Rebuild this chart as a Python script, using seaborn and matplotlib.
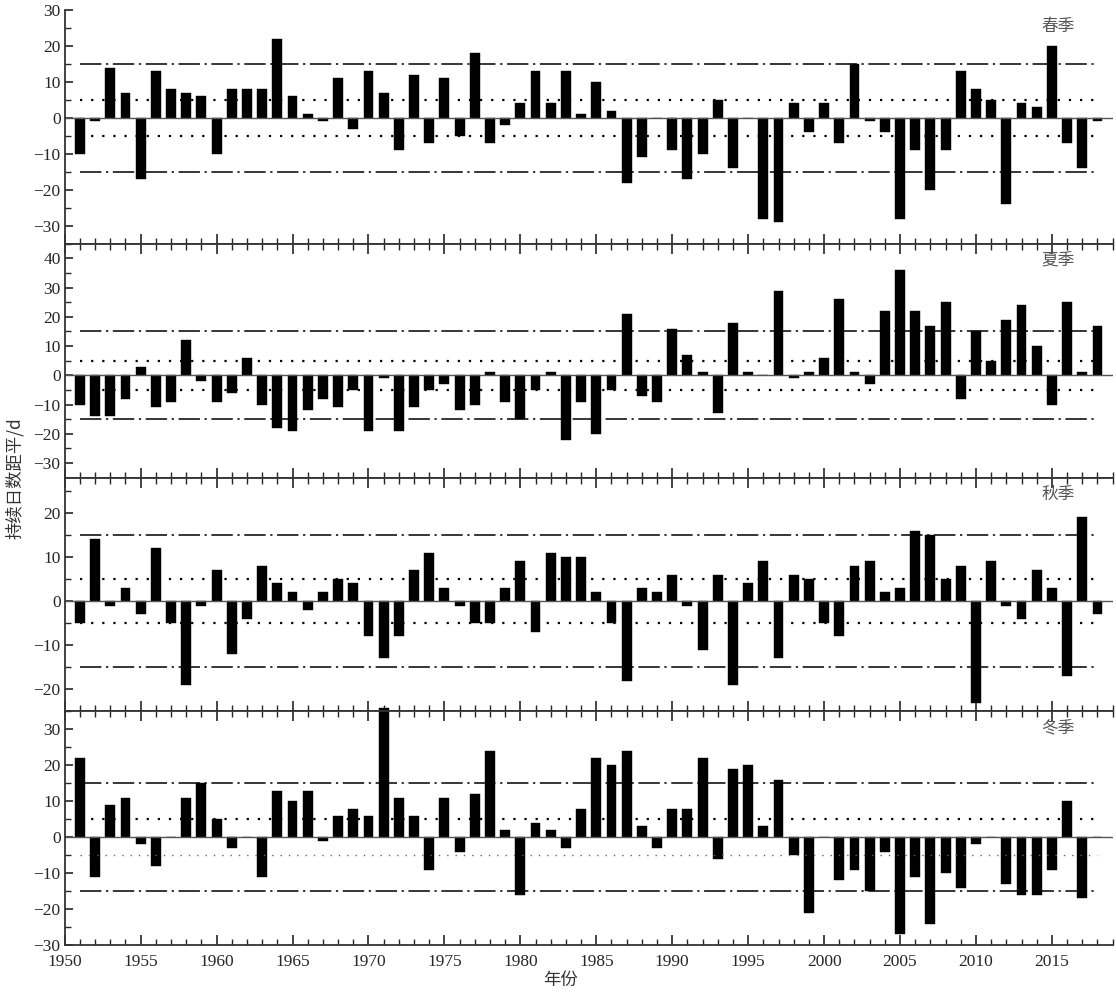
import numpy as np
import pandas as pd
import matplotlib
matplotlib.use("Agg")
import matplotlib.pyplot as plt
from matplotlib.ticker import MultipleLocator
import seaborn as sns

# Seasonal anomalies of duration days, 1951-2018
years = list(range(1951, 2019))

spring = [-10, -1, 14, 7, -17, 13, 8, 7, 6, -10,
          8, 8, 8, 22, 6, 1, -1, 11, -3, 13,
          7, -9, 12, -7, 11, -5, 18, -7, -2, 4,
          13, 4, 13, 1, 10, 2, -18, -11, 0, -9,
          -17, -10, 5, -14, 0, -28, -29, 4, -4, 4,
          -7, 15, -1, -4, -28, -9, -20, -9, 13, 8,
          5, -24, 4, 3, 20, -7, -14, -1]

summer = [-10, -14, -14, -8, 3, -11, -9, 12, -2, -9,
          -6, 6, -10, -18, -19, -12, -8, -11, -5, -19,
          -1, -19, -11, -5, -3, -12, -10, 1, -9, -15,
          -5, 1, -22, -9, -20, -5, 21, -7, -9, 16,
          7, 1, -13, 18, 1, 0, 29, -1, 1, 6,
          26, 1, -3, 22, 36, 22, 17, 25, -8, 15,
          5, 19, 24, 10, -10, 25, 1, 17]

autumn = [-5, 14, -1, 3, -3, 12, -5, -19, -1, 7,
          -12, -4, 8, 4, 2, -2, 2, 5, 4, -8,
          -13, -8, 7, 11, 3, -1, -5, -5, 3, 9,
          -7, 11, 10, 10, 2, -5, -18, 3, 2, 6,
          -1, -11, 6, -19, 4, 9, -13, 6, 5, -5,
          -8, 8, 9, 2, 3, 16, 15, 5, 8, -23,
          9, -1, -4, 7, 3, -17, 19, -3]

winter = [22, -11, 9, 11, -2, -8, 0, 11, 15, 5,
          -3, 0, -11, 13, 10, 13, -1, 6, 8, 6,
          36, 11, 6, -9, 11, -4, 12, 24, 2, -16,
          4, 2, -3, 8, 22, 20, 24, 3, -3, 8,
          8, 22, -6, 19, 20, 3, 16, -5, -21, 0,
          -12, -9, -15, -4, -27, -11, -24, -10, -14, -2,
          0, -13, -16, -16, -9, 10, -17, 0]

season_names = ["春季", "夏季", "秋季", "冬季"]
season_values = [spring, summer, autumn, winter]
y_limits = [(-35, 30), (-35, 45), (-25, 28), (-30, 35)]
y_ticks = [[-30, -20, -10, 0, 10, 20, 30],
           [-30, -20, -10, 0, 10, 20, 30, 40],
           [-20, -10, 0, 10, 20],
           [-30, -20, -10, 0, 10, 20, 30]]
x_ticks = list(range(1950, 2020, 5))

sns.set_style("ticks")
plt.rcParams['font.family'] = ['Liberation Serif', 'Noto Sans CJK SC']
plt.rcParams['axes.unicode_minus'] = True

fig, axes = plt.subplots(4, 1, figsize=(11.16, 9.96), dpi=100, sharex=True)
fig.subplots_adjust(left=0.058, right=0.997, top=0.99, bottom=0.051, hspace=0)

for i, ax in enumerate(axes):
    df = pd.DataFrame({'year': years, 'value': season_values[i]})
    sns.barplot(data=df, x='year', y='value', native_scale=True,
                color='black', width=0.65, errorbar=None, ax=ax,
                saturation=1)
    for p in ax.patches:
        p.set_edgecolor('black')
        p.set_linewidth(0.3)
        if i == 3:
            p.set_clip_on(False)

    ax.axhline(0, color='#555555', lw=1.0, zorder=1)
    ax.hlines(5, 1951, 2018, colors='black', lw=1.6,
              linestyles=[(0, (1, 4))], zorder=3)
    if i == 3:
        # lower dotted line is drawn finer in the winter panel
        ax.hlines(-5, 1951, 2018, colors='#666666', lw=1.0,
                  linestyles=[(0, (1, 5))], zorder=3)
    else:
        ax.hlines(-5, 1951, 2018, colors='black', lw=1.6,
                  linestyles=[(0, (1, 4))], zorder=3)
    ax.hlines([15, -15], 1951, 2018, colors='black', lw=1.1,
              linestyles=[(0, (14, 3, 1.5, 3))], zorder=3)

    ax.set_xlim(1950, 2019)
    ax.set_ylim(*y_limits[i])
    ax.set_yticks(y_ticks[i])
    ax.yaxis.set_minor_locator(MultipleLocator(5))
    ax.set_xticks(x_ticks)
    ax.xaxis.set_minor_locator(MultipleLocator(1))
    ax.set_xlabel('')
    ax.set_ylabel('')

    ax.spines['right'].set_visible(False)
    for s in ['left', 'bottom', 'top']:
        ax.spines[s].set_linewidth(1.3)
        ax.spines[s].set_color('#333333')
    if i == 0:
        ax.spines['top'].set_visible(False)
    ax.tick_params(axis='x', which='both', direction='in',
                   top=(i > 0), bottom=True)
    ax.tick_params(axis='x', which='major', length=7, width=1.2)
    ax.tick_params(axis='x', which='minor', length=4, width=1.0)
    ax.tick_params(axis='y', which='both', direction='in', left=True, right=False)
    ax.tick_params(axis='y', which='major', length=6, width=1.2)
    ax.tick_params(axis='y', which='minor', length=4, width=1.0)
    ax.tick_params(labelsize=12.5, pad=3)

    ax.text(0.948, 0.965, season_names[i], transform=ax.transAxes,
            ha='center', va='top', fontsize=12, color='#555555',
            family=['Noto Sans CJK SC'])

axes[3].tick_params(axis='x', labelsize=12.5, pad=6)
fig.text(0.013, 0.52, '持续日数距平/d', rotation=90, ha='center', va='center',
         fontsize=12.5, color='#333333', family=['Noto Sans CJK SC', 'DejaVu Sans'])
fig.text(0.502, 0.007, '年份', ha='center', va='bottom', fontsize=12.5,
         color='#333333', family=['Noto Sans CJK SC'])

fig.savefig('out.png', dpi=100)
